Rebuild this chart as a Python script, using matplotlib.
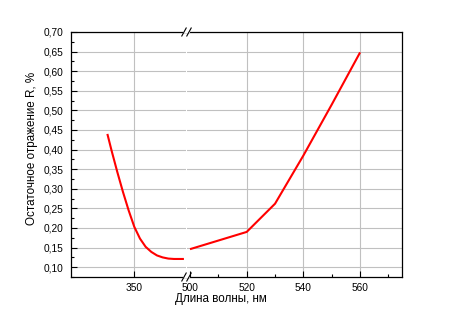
import matplotlib
matplotlib.use("Agg")
import matplotlib.pyplot as plt
from matplotlib.ticker import MultipleLocator, FixedLocator, FuncFormatter
from matplotlib.lines import Line2D

# ---- data ----
wl_uv = [340.5, 342, 344, 346, 348, 350, 352, 354, 356, 358, 360, 362, 364, 366, 367.5]
r_uv = [0.440, 0.397, 0.343, 0.292, 0.245, 0.203, 0.173, 0.152, 0.139, 0.130, 0.125, 0.122, 0.121, 0.121, 0.121]
wl_vis = [500, 510, 520, 530, 540, 550, 560]
r_vis = [0.146, 0.168, 0.190, 0.262, 0.385, 0.515, 0.648]
xticks_left = [350]
xticks_right = [500, 520, 540, 560]
xgrid_right = [520, 540, 560]
xlabel = "Длина волны, нм"
ylabel = "Остаточное отражение R, %"

plt.rcParams['font.family'] = ['Liberation Sans', 'DejaVu Sans']

W, H = 450, 330
fig = plt.figure(figsize=(4.5, 3.3), dpi=100)

x0, xb, x1 = 71, 186.5, 402
ytop, ybot = 32, 277
pxnm = 2.835
axL = fig.add_axes([x0 / W, 1 - ybot / H, (xb - x0) / W, (ybot - ytop) / H])
axR = fig.add_axes([xb / W, 1 - ybot / H, (x1 - xb) / W, (ybot - ytop) / H])

axL.set_xlim(350 - (134.3 - x0) / pxnm, 350 + (xb - 134.3) / pxnm)
axR.set_xlim(500 - (190 - xb) / pxnm, 500 + (x1 - 190) / pxnm)
for ax in (axL, axR):
    ax.set_ylim(0.075, 0.70)
    ax.yaxis.set_major_locator(MultipleLocator(0.05))
    ax.yaxis.set_minor_locator(MultipleLocator(0.025))
    ax.grid(axis='y', color='#c0c0c0', linewidth=0.8, zorder=0)
    for s in ax.spines.values():
        s.set_linewidth(0.9)
        s.set_color('black')
    ax.tick_params(which='major', direction='in', length=4, width=0.8, labelsize=7.3, pad=4.2)
    ax.tick_params(which='minor', direction='in', length=2.2, width=0.8)
    ax.set_axisbelow(True)

fmt = FuncFormatter(lambda v, p: f"{v:.2f}".replace('.', ','))
axL.yaxis.set_major_formatter(fmt)
axL.tick_params(axis='y', which='major', pad=5.5)
axL.spines['right'].set_visible(False)
axR.spines['left'].set_visible(False)
axR.tick_params(axis='y', which='both', left=False, labelleft=False)

axL.xaxis.set_major_locator(FixedLocator(xticks_left))
axL.xaxis.set_minor_locator(FixedLocator([]))
axL.axvline(xticks_left[0], color='#c0c0c0', linewidth=0.8, zorder=0)
axR.xaxis.set_major_locator(FixedLocator(xticks_right))
axR.xaxis.set_minor_locator(MultipleLocator(10))
for g in xgrid_right:
    axR.axvline(g, color='#c0c0c0', linewidth=0.8, zorder=0)
axR.xaxis.set_major_formatter(FuncFormatter(lambda v, p: f"{v:.0f}"))

axL.plot(wl_uv, r_uv, color='#ff0000', linewidth=1.5, solid_capstyle='butt', zorder=3)
axR.plot(wl_vis, r_vis, color='#ff0000', linewidth=1.5, solid_capstyle='butt', zorder=3)

# break marks
def fx(px):
    return px / W
def fy(py):
    return 1 - py / H
for yc in (ytop, ybot):
    fig.add_artist(Line2D([fx(xb - 2.5), fx(xb + 2.5)], [fy(yc), fy(yc)],
                          color='white', linewidth=1.5, transform=fig.transFigure))
    for dx in (-2.5, 2.5):
        fig.add_artist(Line2D([fx(xb + dx - 2.2), fx(xb + dx + 2.2)],
                              [fy(yc + 4), fy(yc - 4)],
                              color='black', linewidth=0.8, transform=fig.transFigure))

fig.text(221 / W, fy(299), xlabel, ha='center', va='center', fontsize=8.4)
fig.text(32 / W, fy(148.5), ylabel, ha='center', va='center', rotation=90, fontsize=8.4)

fig.savefig("out.png", dpi=100)
